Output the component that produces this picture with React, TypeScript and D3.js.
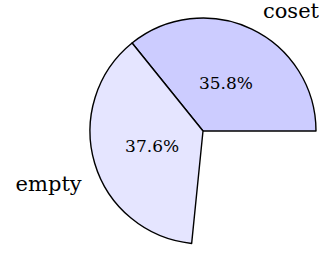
import React, { useEffect, useRef } from "react";
import * as d3 from "d3";

// slice data (percent of the whole circle, the rest is left empty)
const categories = ["coset", "empty"];
const percents = [35.8, 37.6];
const fills = ["#ccccff", "#e5e5ff"];

const App = () => {
  const ref = useRef<SVGSVGElement>(null);

  useEffect(() => {
    const width = 319,
      height = 256;
    const cx = 203,
      cy = 131,
      radius = 113;
    const font = "'DejaVu Serif', serif";

    const svg = d3.select(ref.current);
    svg.selectAll("*").remove();
    svg.attr("width", width).attr("height", height);

    const g = svg.append("g").attr("transform", `translate(${cx},${cy})`);

    // slices start at east and run counter-clockwise, like pgf-pie
    const start = Math.PI / 2;
    const total = d3.sum(percents);
    const pie = d3
      .pie<number>()
      .sort(null)
      .value((d) => d)
      .startAngle(start)
      .endAngle(start - 2 * Math.PI * (total / 100));

    const arcs = pie(percents);
    const arc = d3.arc<d3.PieArcDatum<number>>().innerRadius(0).outerRadius(radius);

    g.selectAll("path.slice")
      .data(arcs)
      .enter()
      .append("path")
      .attr("class", "slice")
      .attr("d", arc)
      .attr("fill", (d, i) => fills[i])
      .attr("stroke", "#000")
      .attr("stroke-width", 1.4)
      .attr("stroke-linejoin", "round");

    const mid = (d: d3.PieArcDatum<number>) => (d.startAngle + d.endAngle) / 2;

    // percentages inside
    g.selectAll("text.pct")
      .data(arcs)
      .enter()
      .append("text")
      .attr("class", "pct")
      .attr("x", (d) => Math.sin(mid(d)) * radius * 0.47)
      .attr("y", (d) => -Math.cos(mid(d)) * radius * 0.47)
      .attr("dy", "0.36em")
      .attr("text-anchor", "middle")
      .style("font-family", font)
      .style("font-size", "17px")
      .text((d) => `${d.data.toFixed(1)}%`);

    // category names outside
    g.selectAll("text.label")
      .data(arcs)
      .enter()
      .append("text")
      .attr("class", "label")
      .attr("x", (d) => Math.sin(mid(d)) * radius * (Math.sin(mid(d)) > 0 ? 1.23 : 1.12))
      .attr("y", (d) => -Math.cos(mid(d)) * radius * 1.15)
      .attr("dy", (d) => (Math.cos(mid(d)) > 0 ? "0.2em" : "1.1em"))
      .attr("text-anchor", (d) => (Math.sin(mid(d)) > 0 ? "start" : "end"))
      .style("font-family", font)
      .style("font-size", "21px")
      .text((d, i) => categories[i]);
  }, []);

  return (
    <svg
      ref={ref}
      style={{ position: "absolute", left: 0, top: 0, background: "#fff" }}
    ></svg>
  );
};

export default App;
